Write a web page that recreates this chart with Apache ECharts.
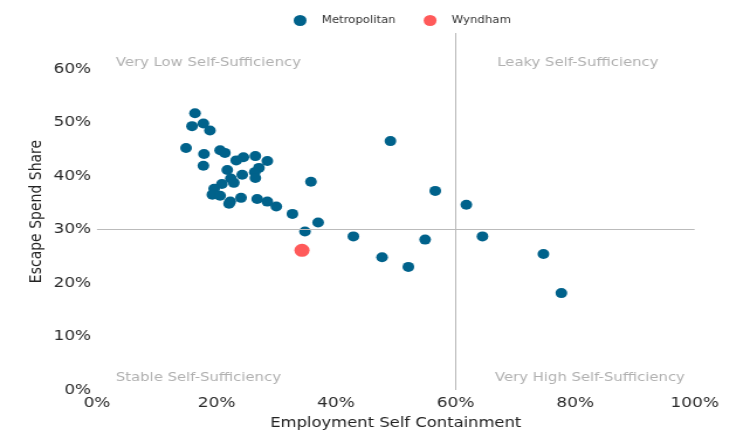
<!DOCTYPE html>
<html><head><meta charset="utf-8">
<script src="https://cdn.jsdelivr.net/npm/echarts@6/dist/echarts.min.js"></script>
<style>html,body{margin:0;padding:0;background:#fff;overflow:hidden}
#wrap{width:740px;height:435px;overflow:hidden}
#c{width:632.5px;height:435px;transform:scaleX(1.17);transform-origin:0 0}</style>
</head><body><div id="wrap"><div id="c"></div></div>
<script>
// Metropolitan LGAs: [employment self containment, escape spend share]
const metroX = [0.164,0.159,0.178,0.189,0.149,0.179,0.178,0.206,0.214,0.245,0.233,0.265,0.285,0.271,0.218,0.224,0.243,0.264,0.265,0.209,0.229,0.196,0.193,0.206,0.223,0.221,0.241,0.268,0.285,0.300,0.327,0.358,0.370,0.348,0.491,0.429,0.477,0.521,0.549,0.566,0.618,0.645,0.747,0.777];
const metroY = [0.517,0.493,0.498,0.485,0.452,0.441,0.419,0.448,0.443,0.435,0.429,0.437,0.428,0.415,0.411,0.395,0.402,0.407,0.396,0.385,0.387,0.376,0.365,0.363,0.352,0.348,0.359,0.357,0.352,0.343,0.329,0.389,0.313,0.296,0.465,0.287,0.248,0.230,0.281,0.372,0.346,0.287,0.254,0.181];
const wyndhamX = [0.343];
const wyndhamY = [0.261];
const xTicks = [0,0.2,0.4,0.6,0.8,1.0];
const yTicks = [0,0.1,0.2,0.3,0.4,0.5,0.6];
const splitX = 0.6, splitY = 0.3;
const quadrantLabels = ['Very Low Self-Sufficiency','Leaky Self-Sufficiency','Stable Self-Sufficiency','Very High Self-Sufficiency'];

const pct = v => Math.round(v*100) + '%';
const chart = echarts.init(document.getElementById('c'), null, {renderer:'canvas'});
const font = 'DejaVu Sans';
const qStyle = {fill:'#b0b0b0', font:'12.7px "DejaVu Sans"'};
chart.setOption({
  animation:false,
  textStyle:{fontFamily:font},
  grid:{left:82.9,right:39.3,top:33,bottom:42},
  legend:{top:10,left:246,itemGap:24,itemWidth:11,itemHeight:11,
    textStyle:{fontSize:10,color:'#333',fontFamily:font,padding:[0,0,0,8]},
    data:[{name:'Metropolitan',icon:'circle',itemStyle:{color:'#00628b'}},{name:'Wyndham',icon:'circle',itemStyle:{color:'#ff5a5a'}}]},
  xAxis:{type:'value',min:0,max:1,interval:0.2,
    name:'Employment Self Containment',nameLocation:'middle',nameGap:26,nameMoveOverlap:false,
    nameTextStyle:{fontSize:14,color:'#222',fontFamily:font},
    axisLine:{show:false},axisTick:{show:false},splitLine:{show:false},
    axisLabel:{formatter:pct,fontSize:14.5,color:'#2a2a2a',margin:6,fontFamily:font}},
  yAxis:{type:'value',min:0,max:0.667,interval:0.1,
    name:'Escape Spend Share',nameLocation:'middle',nameGap:45,nameMoveOverlap:false,
    nameTextStyle:{fontSize:14,color:'#222',fontFamily:font},
    axisLine:{show:false},axisTick:{show:false},splitLine:{show:false},
    axisLabel:{formatter:pct,fontSize:14.5,color:'#2a2a2a',margin:5,showMaxLabel:false,fontFamily:font}},
  graphic:[
    {type:'text',left:99,top:56,style:Object.assign({text:quadrantLabels[0]},qStyle)},
    {type:'text',left:425,top:56,style:Object.assign({text:quadrantLabels[1]},qStyle)},
    {type:'text',left:99,top:371,style:Object.assign({text:quadrantLabels[2]},qStyle)},
    {type:'text',left:423,top:371,style:Object.assign({text:quadrantLabels[3]},qStyle)}
  ],
  series:[
    {name:'Metropolitan',type:'scatter',symbolSize:10,itemStyle:{color:'#00628b',opacity:1},
     data:metroX.map((x,i)=>[x,metroY[i]]),
     markLine:{silent:true,symbol:'none',label:{show:false},lineStyle:{color:'#bbbbbb',type:'solid',width:1},
       data:[[{coord:[splitX,0]},{coord:[splitX,0.667]}],[{coord:[0,splitY]},{coord:[1,splitY]}]]}},
    {name:'Wyndham',type:'scatter',symbolSize:13,itemStyle:{color:'#ff5a5a',opacity:1},
     data:wyndhamX.map((x,i)=>[x,wyndhamY[i]])}
  ]
});
</script></body></html>
